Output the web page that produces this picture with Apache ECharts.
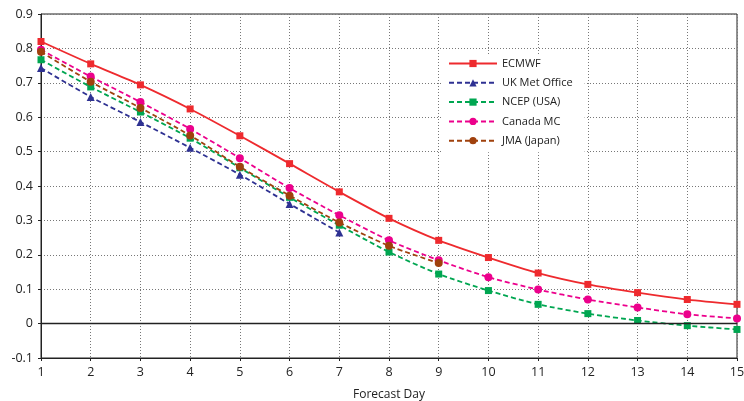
<!DOCTYPE html>
<html>
<head>
<meta charset="utf-8">
<script src="https://cdn.jsdelivr.net/npm/echarts@6/dist/echarts.min.js"></script>
<style>
  html, body { margin: 0; padding: 0; background: #fff; }
  #chart { width: 744px; height: 401px; }
</style>
</head>
<body>
<div id="chart"></div>
<script>
const days = [1, 2, 3, 4, 5, 6, 7, 8, 9, 10, 11, 12, 13, 14, 15];
const ecmwf = [0.82, 0.755, 0.694, 0.624, 0.546, 0.465, 0.383, 0.306, 0.242, 0.192, 0.147, 0.114, 0.09, 0.07, 0.056];
const ukmo = [0.743, 0.659, 0.586, 0.511, 0.433, 0.348, 0.265];
const ncep = [0.767, 0.688, 0.615, 0.539, 0.453, 0.367, 0.286, 0.208, 0.144, 0.096, 0.056, 0.029, 0.009, -0.006, -0.017];
const canada = [0.796, 0.718, 0.644, 0.566, 0.481, 0.394, 0.315, 0.242, 0.184, 0.135, 0.099, 0.07, 0.047, 0.027, 0.015];
const jma = [0.79, 0.703, 0.627, 0.547, 0.456, 0.372, 0.294, 0.226, 0.176];

const pairs = (vals) => vals.map((v, i) => [days[i], v]);

const chart = echarts.init(document.getElementById('chart'));

const mk = (name, vals, color, symbol, size, dashed) => ({
  name: name,
  type: 'line',
  data: pairs(vals),
  symbol: symbol,
  symbolSize: size,
  smooth: 0.25,
  itemStyle: { color: color },
  lineStyle: { color: color, width: 1.8, type: dashed ? [5, 3] : 'solid' },
  z: dashed ? 3 : 4
});

const option = {
  animation: false,
  textStyle: { fontFamily: 'Open Sans, Liberation Sans, sans-serif' },
  grid: {
    left: 41, right: 7, top: 14, bottom: 43,
    outerBoundsMode: 'none', containLabel: false,
    show: true, borderColor: '#222', borderWidth: 1
  },
  legend: {
    orient: 'vertical',
    left: 442,
    top: 54,
    itemWidth: 48,
    itemHeight: 9,
    itemGap: 8.3,
    backgroundColor: '#fff',
    padding: [4, 12, 6, 6],
    textStyle: { fontSize: 11, color: '#222' },
    data: ['ECMWF', 'UK Met Office', 'NCEP (USA)', 'Canada MC', 'JMA (Japan)']
  },
  xAxis: {
    type: 'value',
    min: 1,
    max: 15,
    interval: 1,
    name: 'Forecast Day',
    nameLocation: 'middle',
    nameGap: 31,
    nameTextStyle: { fontSize: 12, color: '#222' },
    axisLine: { onZero: false, lineStyle: { color: '#222' } },
    axisTick: { show: true, length: 3, inside: false, lineStyle: { color: '#222' } },
    axisLabel: { fontSize: 12.5, color: '#222', margin: 8 },
    splitLine: { show: true, lineStyle: { color: '#777', type: [1, 2], width: 1 } }
  },
  yAxis: {
    type: 'value',
    min: -0.1,
    max: 0.9,
    interval: 0.1,
    axisLine: { show: true, lineStyle: { color: '#222' } },
    axisTick: { show: true, length: 3, lineStyle: { color: '#222' } },
    axisLabel: {
      fontSize: 12.5, color: '#222', margin: 8,
      formatter: (v) => Math.abs(v) < 1e-9 ? '0' : String(Math.round(v * 10) / 10)
    },
    splitLine: { show: true, lineStyle: { color: '#777', type: [1, 2], width: 1 } }
  },
  series: [
    Object.assign(mk('ECMWF', ecmwf, '#ee2a2e', 'rect', 7, false), {
      markLine: {
        silent: true,
        symbol: 'none',
        label: { show: false },
        lineStyle: { color: '#222', type: 'solid', width: 1.3 },
        data: [{ yAxis: 0 }]
      }
    }),
    mk('UK Met Office', ukmo, '#2e3192', 'triangle', 8, true),
    mk('NCEP (USA)', ncep, '#00a651', 'rect', 7, true),
    mk('Canada MC', canada, '#ec008c', 'circle', 8, true),
    mk('JMA (Japan)', jma, '#a0410d', 'circle', 8, true)
  ]
};

chart.setOption(option);
</script>
</body>
</html>
